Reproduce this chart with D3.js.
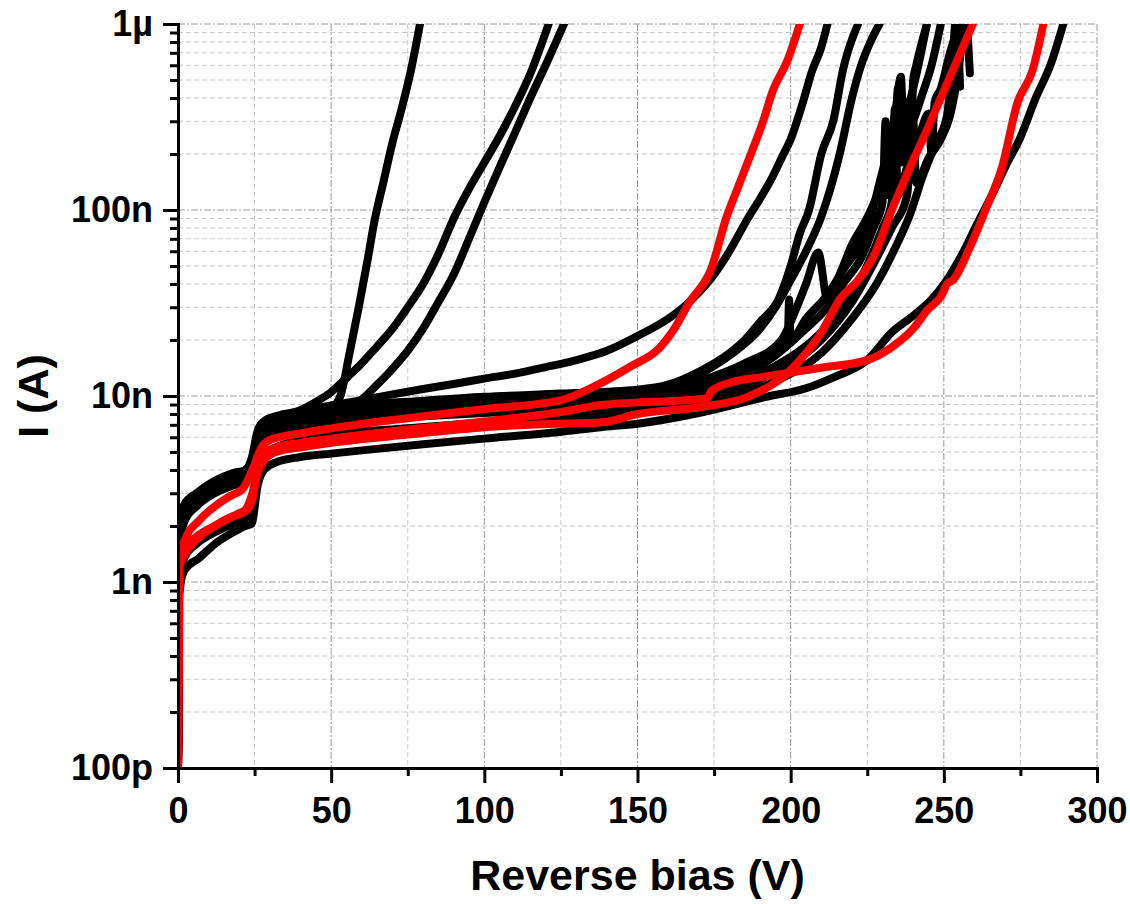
<!DOCTYPE html>
<html>
<head>
<meta charset="utf-8">
<script src="https://cdn.jsdelivr.net/npm/d3@7"></script>
<style>
  body { margin: 0; background: #fff; }
  svg { display: block; font-family: "Liberation Sans", Arial, sans-serif; }
</style>
</head>
<body>
<svg id="chart" width="1130" height="904"></svg>
<script>
// Reverse-bias I-V sweeps, [volts, current in nA]
const curveA = [[0,0.1],[0.4,1.6],[2,2.3],[6,2.8],[12,3.3],[18,3.6],[22,3.8],[24,4.1],[26,5.6],[28,6.6],[32,7.3],[40,7.9],[46,8.3],[50,8.6],[53,10],[56,17],[59,30],[62,55],[64,85],[67,140],[70,230],[73,350],[76,560],[79,1000]];
const curveB = [[0,0.1],[0.4,1.8],[2,2.4],[6,2.9],[12,3.4],[18,3.8],[22,4.0],[24,4.5],[26,6.2],[28,7.0],[32,7.6],[40,8.4],[45,9.3],[50,10.5],[55,12.5],[60,15],[65,18.5],[70,23],[75,30],[80,40],[85,58],[90,90],[95,130],[100,180],[105,250],[110,360],[115,540],[121,1000]];
const curveC = [[0,0.1],[0.4,1.7],[2,2.3],[6,2.8],[12,3.3],[18,3.6],[22,3.8],[24,4.0],[26,5.5],[28,6.5],[32,7.0],[40,7.8],[50,8.4],[55,8.8],[60,9.6],[65,11.5],[70,14],[75,17.5],[80,23],[85,32],[90,45],[95,70],[100,110],[105,170],[110,260],[115,400],[120,600],[126,1000]];
const curveD = [[0,0.1],[0.4,2.0],[2,2.6],[6,3.0],[12,3.5],[18,3.85],[22,4.0],[24,4.6],[26,6.5],[28,7.3],[32,7.8],[40,8.3],[50,8.9],[60,9.5],[70,10.2],[80,10.9],[90,11.6],[100,12.4],[110,13.2],[120,14.3],[130,15.6],[140,17.5],[150,21],[160,26],[165,30],[170,36],[175,45],[180,60],[186,90],[190,115],[194,150],[197,190],[200,240],[204,380],[207,560],[210,750],[212,1000]];
const curveK2 = [[0,0.1],[0.4,1.9],[2,2.5],[6,2.95],[12,3.4],[18,3.75],[22,3.9],[24,4.3],[26,6.0],[28,7.0],[32,7.5],[40,8.1],[50,8.7],[75,9.3],[100,9.9],[125,10.3],[150,10.8],[160,11.5],[170,13.5],[180,17],[185,20],[190,25],[196,33],[200,50],[203,75],[206,100],[210,200],[214,305],[217,560],[222,1000]];
const curveK3 = [[0,0.1],[0.4,1.8],[2,2.35],[6,2.8],[12,3.25],[18,3.55],[22,3.7],[24,4.0],[26,5.4],[28,6.5],[32,7.1],[40,7.7],[50,8.3],[75,9.0],[100,9.6],[125,10.0],[150,10.4],[160,11],[170,13],[175,14.5],[180,16.5],[190,23],[195,30],[200,42],[205,60],[210,92],[216,200],[220,400],[223,600],[226,800],[229,1000]];
const curveK4 = [[0,0.1],[0.4,1.7],[2,2.2],[6,2.7],[12,3.15],[18,3.45],[21,3.55],[23,3.7],[25,4.6],[27,6.0],[32,6.9],[40,7.5],[50,8.0],[75,8.7],[100,9.3],[125,9.7],[150,10.1],[170,12],[185,15],[197,20],[202,30],[205,40],[209,59],[212,33],[216,45],[220,65],[225,91],[230,140],[235,230],[240,450],[244.5,1000]];
const curveK5 = [[0,0.1],[0.4,1.75],[2,2.3],[6,2.75],[12,3.2],[18,3.5],[22,3.65],[24,3.9],[26,5.2],[28,6.3],[32,6.9],[40,7.4],[50,7.8],[75,8.5],[100,9.1],[125,9.5],[150,9.8],[170,11],[185,14],[195,18],[199,19],[199.5,33],[200,20],[205,26],[212,35],[218,50],[222,62],[226,90],[229,140],[232,220],[234,320],[236,520],[237,200],[238,380],[239,150],[240,500],[241,600],[244.5,1000]];
const curveK6 = [[0,0.1],[0.4,1.65],[2,2.2],[6,2.65],[12,3.1],[18,3.4],[22,3.55],[24,3.8],[26,5.0],[28,6.1],[32,6.7],[40,7.2],[50,7.6],[75,8.3],[100,8.9],[125,9.3],[150,9.5],[170,10.5],[185,13],[195,16.5],[205,23],[212,30],[218,42],[223,55],[227,80],[230,110],[231,300],[232,120],[234,160],[235,450],[236,180],[238,250],[240,300],[243,420],[246,600],[249,1000]];
const curveK7 = [[0,0.1],[0.4,1.6],[2,2.15],[6,2.6],[12,3.05],[18,3.35],[22,3.5],[24,3.75],[26,4.9],[28,5.9],[32,6.5],[40,7.0],[50,7.4],[75,8.1],[100,8.7],[125,9.0],[150,9.2],[175,10.8],[195,14.5],[210,22],[220,35],[226,55],[230,80],[233,110],[234,350],[235,120],[238,170],[242,250],[245,330],[246,200],[247,380],[249,450],[252,700],[255,1000]];
const curveK8 = [[0,0.1],[0.4,1.55],[2,2.1],[6,2.55],[12,3.0],[18,3.3],[22,3.45],[24,3.7],[26,4.8],[28,5.7],[32,6.3],[40,6.8],[50,7.2],[75,7.7],[100,8.1],[125,8.5],[150,8.8],[175,10.2],[195,13.5],[210,20],[220,32],[228,55],[233,80],[238,120],[240,300],[241,140],[245,190],[249,240],[252,320],[255,600],[257,1100],[258.5,543]];
const curveK9 = [[0,0.1],[0.4,1.0],[2,1.35],[6,1.6],[12,1.85],[18,2.05],[22,2.2],[24,2.4],[26,3.9],[28,4.8],[32,5.3],[40,5.8],[50,6.2],[75,6.7],[100,7.2],[125,7.7],[150,8.2],[175,9.5],[195,12],[210,17],[220,26],[228,40],[234,62],[239,95],[243,150],[247,220],[251,320],[253,700],[254,1100],[255.3,460]];
const curveE = [[0,0.1],[0.4,0.85],[2,1.15],[7,1.35],[12,1.6],[18,1.85],[22,2.0],[24,2.05],[26,3.3],[28,4.0],[32,4.4],[40,4.7],[50,4.9],[60,5.1],[80,5.5],[100,5.9],[120,6.3],[138,6.8],[150,7.1],[170,8.1],[192,9.9],[205,11],[214,12.6],[225,15.6],[233,22],[240,27],[246,33],[251,42],[256,58],[261,85],[266,123],[270,170],[275,246],[280,400],[285,614],[289,1000]];
const curveR1 = [[0,0.1],[0.3,1.3],[2,1.65],[7,2.15],[12,2.55],[17,2.9],[21,3.15],[23,3.6],[25,4.3],[27,5.2],[30,5.8],[40,6.3],[50,6.7],[75,7.6],[100,8.5],[125,9.5],[137,11.5],[148,14.5],[157,18],[162,23],[167,32],[174,48],[179,91],[183,135],[187,200],[191,300],[194,430],[199,640],[203,1000]];
const curveR2 = [[0,0.1],[0.3,1.2],[3,1.48],[8,1.8],[14,2.1],[20,2.35],[22,2.45],[24,2.9],[26,3.9],[28,4.5],[32,5.0],[40,5.3],[50,5.6],[75,6.2],[100,6.8],[125,7.1],[138,7.2],[150,8.0],[170,8.7],[186,9.9],[199,13.3],[205,17],[210,22],[216,33],[222,42],[227,56],[233,100],[239,170],[244.5,270],[252,520],[259.5,1000]];
const curveR3 = [[0,0.1],[0.3,1.15],[2,1.5],[6,1.75],[12,2.0],[18,2.25],[22,2.4],[24,2.7],[26,4.0],[28,4.8],[32,5.3],[40,5.6],[50,5.9],[75,6.6],[100,7.3],[125,8.2],[138,8.95],[155,9.3],[170,9.6],[173,9.8],[174,10.6],[181,11.9],[190,12.6],[199,13.3],[210,14.2],[225,15.6],[233,18.3],[240,23],[244.5,28.8],[249.7,35.8],[251,40],[253,42],[258.5,63],[264,104],[269,170],[274,376],[279,566],[282.5,1000]];

const blackCurves = [curveA, curveB, curveC, curveD, curveK2, curveK3, curveK4, curveK5, curveK6, curveK7, curveK8, curveK9, curveE];
const redCurves = [curveR1, curveR2, curveR3];

const xTicks = [0, 50, 100, 150, 200, 250, 300];
const yTicks = [1e-10, 1e-9, 1e-8, 1e-7, 1e-6];
const yTickLabels = ['100p', '1n', '10n', '100n', '1\u00b5'];

const margin = { top: 24, right: 33, bottom: 136, left: 178 };
const width = 1130 - margin.left - margin.right;
const height = 904 - margin.top - margin.bottom;

const svg = d3.select('#chart');
const g = svg.append('g').attr('transform', 'translate(' + margin.left + ',' + margin.top + ')');

const x = d3.scaleLinear().domain([0, 300]).range([0, width]);
const y = d3.scaleLog().domain([1e-10, 1e-6]).range([height, 0]);

// minor positions for grid and small ticks
const yMinor = [];
yTicks.slice(0, -1).forEach(function (d) {
  for (let k = 2; k <= 9; k++) yMinor.push(d * k);
});
const xMinor = [25, 75, 125, 175, 225, 275];

// grid lines
const grid = g.append('g');
grid.selectAll('.ymin').data(yMinor).enter().append('line')
  .attr('x1', 0).attr('x2', width)
  .attr('y1', d => y(d)).attr('y2', d => y(d))
  .attr('stroke', '#c6c6c6').attr('stroke-width', 1).attr('stroke-dasharray', '5,3');
grid.selectAll('.xmin').data(xMinor).enter().append('line')
  .attr('y1', 0).attr('y2', height)
  .attr('x1', d => x(d)).attr('x2', d => x(d))
  .attr('stroke', '#c6c6c6').attr('stroke-width', 1).attr('stroke-dasharray', '5,3');
grid.selectAll('.ymaj').data(yTicks).enter().append('line')
  .attr('x1', 0).attr('x2', width)
  .attr('y1', d => y(d)).attr('y2', d => y(d))
  .attr('stroke', '#9a9a9a').attr('stroke-width', 1).attr('stroke-dasharray', '7,2,2,2');
grid.selectAll('.xmaj').data(xTicks).enter().append('line')
  .attr('y1', 0).attr('y2', height)
  .attr('x1', d => x(d)).attr('x2', d => x(d))
  .attr('stroke', '#9a9a9a').attr('stroke-width', 1).attr('stroke-dasharray', '7,2,2,2');

// clip the sweeps to the plot frame
svg.append('defs').append('clipPath').attr('id', 'plotClip')
  .append('rect').attr('x', 0).attr('y', 0).attr('width', width).attr('height', height);

const line = d3.line()
  .x(d => x(d[0]))
  .y(d => y(d[1] * 1e-9))
  .curve(d3.curveMonotoneX);

const plot = g.append('g').attr('clip-path', 'url(#plotClip)');
plot.selectAll('.blk').data(blackCurves).enter().append('path')
  .attr('d', line)
  .attr('fill', 'none').attr('stroke', '#000').attr('stroke-width', 8)
  .attr('stroke-linejoin', 'round').attr('stroke-linecap', 'round');
plot.selectAll('.red').data(redCurves).enter().append('path')
  .attr('d', line)
  .attr('fill', 'none').attr('stroke', '#ff0000').attr('stroke-width', 8)
  .attr('stroke-linejoin', 'round').attr('stroke-linecap', 'round');

// axes
g.append('g').attr('transform', 'translate(0,' + height + ')')
  .call(d3.axisBottom(x).tickValues(xTicks).tickSize(15).tickPadding(14).tickFormat(d3.format('d')));
g.append('g').attr('transform', 'translate(0,' + height + ')')
  .call(d3.axisBottom(x).tickValues(xMinor).tickSize(8).tickFormat(''));
g.append('g')
  .call(d3.axisLeft(y).tickValues(yTicks).tickSize(15).tickPadding(10)
    .tickFormat((d, i) => yTickLabels[i]));
g.append('g')
  .call(d3.axisLeft(y).tickValues(yMinor).tickSize(8).tickFormat(''));

g.selectAll('.domain').attr('stroke', '#000').attr('stroke-width', 3);
g.selectAll('.tick line').attr('stroke', '#000').attr('stroke-width', 3);
g.selectAll('.tick text')
  .attr('fill', '#000')
  .style('font-family', '"Liberation Sans", Arial, sans-serif')
  .style('font-weight', 'bold')
  .style('font-size', '36px');

// axis titles
svg.append('text')
  .attr('x', margin.left + width / 2)
  .attr('y', 890)
  .attr('text-anchor', 'middle')
  .style('font-weight', 'bold')
  .style('font-size', '43px')
  .text('Reverse bias (V)');

svg.append('text')
  .attr('transform', 'translate(48,' + (margin.top + height / 2) + ') rotate(-90)')
  .attr('text-anchor', 'middle')
  .style('font-weight', 'bold')
  .style('font-size', '43px')
  .text('I (A)');
</script>
</body>
</html>
